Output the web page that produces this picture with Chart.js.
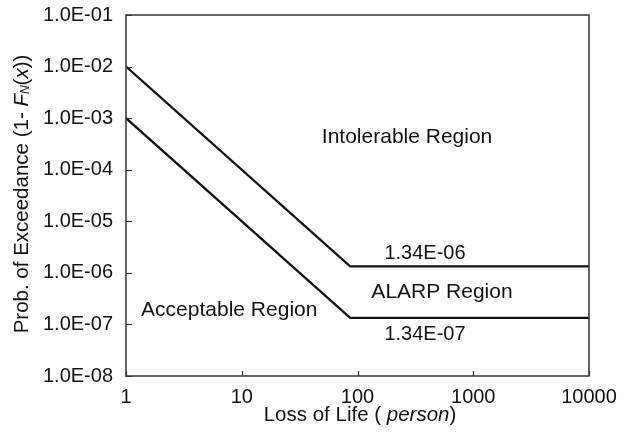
<!DOCTYPE html>
<html>
<head>
<meta charset="utf-8">
<title>FN criterion curve</title>
<script src="https://cdn.jsdelivr.net/npm/chart.js@4.4.0/dist/chart.umd.min.js"></script>
<style>
  html, body { margin: 0; padding: 0; background: #fff; }
  #wrap { width: 626px; height: 433px; }
</style>
</head>
<body>
<div id="wrap"><canvas id="fn" width="626" height="433"></canvas></div>
<script>
// Loss of life (persons) at the curve vertices
const lossOfLife = [1, 86.4, 10000];
// Upper (intolerable) and lower (acceptable) limit lines
const upperLimit = [1.0e-2, 1.34e-6, 1.34e-6];
const lowerLimit = [1.0e-3, 1.34e-7, 1.34e-7];
// Axis tick values
const xTicks = [1, 10, 100, 1000, 10000];
const yTicks = [1e-8, 1e-7, 1e-6, 1e-5, 1e-4, 1e-3, 1e-2, 1e-1];
// Region annotations: [text, x, y]
const regionLabels = [
  ['Intolerable Region', 268, 4.3e-4],
  ['ALARP Region', 537, 4.3e-7],
  ['Acceptable Region', 7.8, 1.9e-7]
];
// Limit value annotations: [value, x, y]
const limitLabels = [
  [1.34e-6, 383, 2.4e-6],
  [1.34e-7, 383, 6.4e-8]
];

const FONT = '"Liberation Sans", Arial, Helvetica, sans-serif';
const INK = '#111';

function sciLabel(v, digits) {
  const e = Math.floor(Math.log10(v) + 1e-9);
  const m = v / Math.pow(10, e);
  const ae = Math.abs(e);
  return m.toFixed(digits) + 'E' + (e < 0 ? '-' : '+') + (ae < 10 ? '0' : '') + ae;
}

const toPts = ys => lossOfLife.map((x, i) => ({ x: x, y: ys[i] }));

const framePlugin = {
  id: 'frame',
  afterDatasetsDraw(chart) {
    const { ctx, chartArea: a, scales } = chart;
    ctx.save();
    // plot frame
    ctx.strokeStyle = '#333';
    ctx.lineWidth = 1.5;
    ctx.strokeRect(a.left, a.top, a.right - a.left, a.bottom - a.top);
    // inward tick marks
    ctx.lineWidth = 1.2;
    ctx.beginPath();
    xTicks.forEach(v => {
      const px = Math.round(scales.x.getPixelForValue(v)) + 0.5;
      ctx.moveTo(px, a.bottom);
      ctx.lineTo(px, a.bottom - 5);
    });
    yTicks.forEach(v => {
      const py = Math.round(scales.y.getPixelForValue(v)) + 0.5;
      ctx.moveTo(a.left, py);
      ctx.lineTo(a.left + 6, py);
    });
    ctx.stroke();

    // annotations
    ctx.fillStyle = INK;
    ctx.font = '21px ' + FONT;
    ctx.textAlign = 'center';
    ctx.textBaseline = 'middle';
    regionLabels.forEach(([t, x, y]) => {
      ctx.fillText(t, scales.x.getPixelForValue(x), scales.y.getPixelForValue(y));
    });
    ctx.font = '20px ' + FONT;
    limitLabels.forEach(([v, x, y]) => {
      ctx.fillText(sciLabel(v, 2), scales.x.getPixelForValue(x), scales.y.getPixelForValue(y));
    });

    // x-axis title: Loss of Life ( person)
    const fs = 20.5;
    const cx = 360;
    const ty = 415;
    const parts = [['Loss of Life ( ', 'normal'], ['person', 'italic'], [')', 'normal']];
    let w = 0;
    parts.forEach(([t, st]) => { ctx.font = st + ' ' + fs + 'px ' + FONT; w += ctx.measureText(t).width; });
    let xx = cx - w / 2;
    ctx.textAlign = 'left';
    parts.forEach(([t, st]) => {
      ctx.font = st + ' ' + fs + 'px ' + FONT;
      ctx.fillText(t, xx, ty);
      xx += ctx.measureText(t).width;
    });

    // y-axis title: Prob. of Exceedance (1- F_N(x))
    const yparts = [
      ['Prob. of Exceedance (1- ', 'normal', fs, 0],
      ['F', 'italic', fs, 0],
      ['N', 'italic', 12, 4],
      ['(', 'normal', fs, 0],
      ['x', 'italic', fs, 0],
      ['))', 'normal', fs, 0]
    ];
    let yw = 0;
    yparts.forEach(([t, st, s]) => { ctx.font = st + ' ' + s + 'px ' + FONT; yw += ctx.measureText(t).width; });
    ctx.translate(22, 194);
    ctx.rotate(-Math.PI / 2);
    let yx = -yw / 2;
    yparts.forEach(([t, st, s, dy]) => {
      ctx.font = st + ' ' + s + 'px ' + FONT;
      ctx.fillText(t, yx, dy);
      yx += ctx.measureText(t).width;
    });
    ctx.restore();
  }
};

new Chart(document.getElementById('fn'), {
  type: 'line',
  data: {
    datasets: [
      { data: toPts(upperLimit), borderColor: INK, borderWidth: 2.3, pointRadius: 0, tension: 0 },
      { data: toPts(lowerLimit), borderColor: INK, borderWidth: 2.3, pointRadius: 0, tension: 0 }
    ]
  },
  options: {
    responsive: false,
    animation: false,
    devicePixelRatio: 1,
    layout: { padding: { left: 0, right: 37, top: 15, bottom: 0 } },
    plugins: { legend: { display: false }, tooltip: { enabled: false } },
    scales: {
      x: {
        type: 'logarithmic',
        min: 1, max: 10000,
        afterBuildTicks: s => { s.ticks = xTicks.map(v => ({ value: v })); },
        afterFit: s => { s.height = 57; s.paddingLeft = 0; s.paddingRight = 0; },
        grid: { display: false, drawTicks: false },
        border: { display: false },
        ticks: {
          color: INK, padding: 9, maxRotation: 0, autoSkip: false,
          font: { family: FONT, size: 20 },
          callback: v => String(v)
        }
      },
      y: {
        type: 'logarithmic',
        min: 1e-8, max: 1e-1,
        afterBuildTicks: s => { s.ticks = yTicks.map(v => ({ value: v })); },
        afterFit: s => { s.width = 126; s.paddingTop = 0; s.paddingBottom = 0; },
        grid: { display: false, drawTicks: false },
        border: { display: false },
        ticks: {
          color: INK, padding: 13, autoSkip: false,
          font: { family: FONT, size: 20 },
          callback: v => sciLabel(v, 1)
        }
      }
    }
  },
  plugins: [framePlugin]
});
</script>
</body>
</html>
